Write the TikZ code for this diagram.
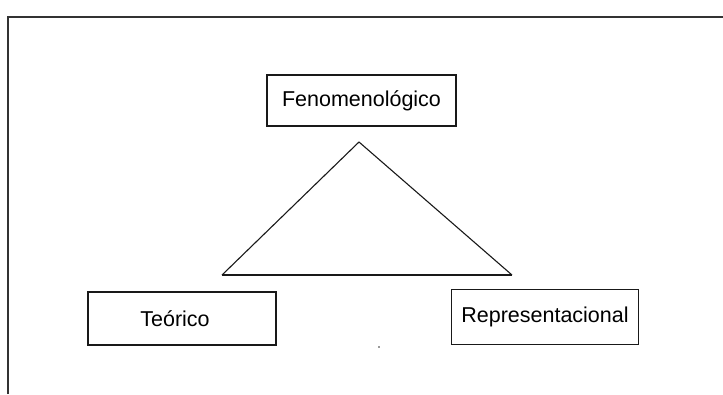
\documentclass[tikz,border=0pt]{standalone}
\usepackage{fontspec}
\setmainfont{Liberation Sans}
\usepackage{tikz}
\usetikzlibrary{calc}

\tikzset{
    nivel/.style={draw=black!90, line width=1.2pt, inner sep=0pt,
        font=\fontsize{21.5}{25}\selectfont},
}

\begin{document}
\begin{tikzpicture}[x=1pt, y=-1pt]
        \useasboundingbox (0, 0) rectangle (723, 394);
        \draw[line width=2pt, black!80] (8, 394) -- (8, 17) -- (723, 17);
        \node[nivel, minimum width=189pt, minimum height=51pt] (feno) at (361.5, 100.5) {Fenomenológico};
        \node[nivel, minimum width=188pt, minimum height=53pt] (teor) at (182, 318.5) {Teórico\hspace*{14pt}};
        \node[nivel, minimum width=187pt, minimum height=55pt] (repr) at (545, 316.7) {Representacional};
        \coordinate (A) at (359, 142);
        \coordinate (B) at (222, 275);
        \coordinate (C) at (512, 275);
        \draw[line width=1.1pt, black!90] (A) -- (B);
        \draw[line width=1.1pt, black!90] (A) -- (C);
        \draw[line width=1.6pt, black!90] (B) -- (C);
        \fill[black!80] (379, 347) circle (0.8pt);
    \end{tikzpicture}
\end{document}
